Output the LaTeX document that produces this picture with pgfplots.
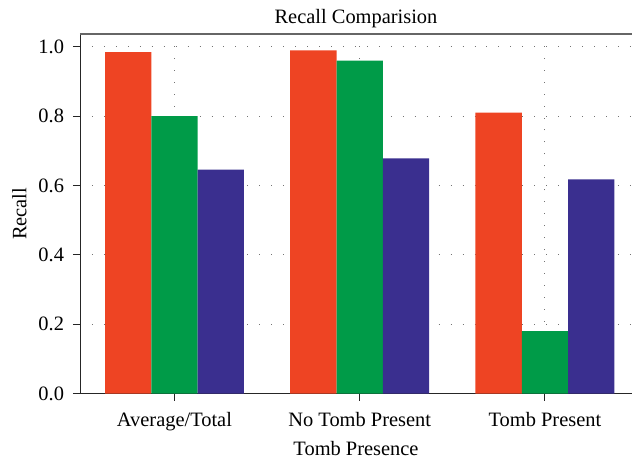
\documentclass[border=0pt]{standalone}
\usepackage{pgfplots}
\pgfplotsset{compat=1.18}
\usepackage{fontspec}
\setmainfont{Liberation Serif}
\definecolor{cred}{HTML}{EE4423}
\definecolor{cgreen}{HTML}{009B48}
\definecolor{cblue}{HTML}{3A2F8F}
\begin{document}
\fontsize{20.5}{24}\selectfont
\begin{tikzpicture}
\begin{axis}[
  scale only axis,
  width=552bp, height=359.5bp,
  xmin=-0.51, xmax=2.47,
  ymin=0, ymax=1.037,
  ybar=0pt, bar width=0.25,
  xtick={0,1,2},
  xticklabels={Average/Total,No Tomb Present,Tomb Present},
  ytick={0,0.2,0.4,0.6,0.8,1.0},
  yticklabel style={/pgf/number format/fixed,/pgf/number format/fixed zerofill,/pgf/number format/precision=1,xshift=-2bp},
  /pgf/number format/assume math mode=true,
  axis x line*=bottom, axis y line*=left,
  axis line style={black!85, line width=0.9pt},
  x axis line style={-}, y axis line style={-},
  tick style={black!85, line width=0.9pt},
  tick align=outside,
  major tick length=7bp,
  xmajorgrids, ymajorgrids,
  grid style={black!55, line width=1pt, dash pattern=on 1pt off 11pt},
  axis on top=false,
  title={Recall Comparision},
  title style={yshift=-7bp},
  xlabel={Tomb Presence},
  ylabel={Recall},
  xlabel style={yshift=4bp},
  ylabel style={yshift=-2bp},
  xticklabel style={yshift=-5bp},
  every tick label/.append style={font=\fontsize{20.5}{24}\selectfont},
  label style={font=\fontsize{20.5}{24}\selectfont},
]
\addplot[fill=cred, draw=none] coordinates {(0,0.985) (1,0.99) (2,0.81)};
\addplot[fill=cgreen, draw=none] coordinates {(0,0.80) (1,0.96) (2,0.18)};
\addplot[fill=cblue, draw=none] coordinates {(0,0.646) (1,0.678) (2,0.618)};
\draw[black!60, line width=1.1pt] (rel axis cs:0,1) -- (rel axis cs:1,1);
\end{axis}
\pgfresetboundingbox
\path ([xshift=-80bp,yshift=-65.7bp]current axis.south west) rectangle ([xshift=1bp,yshift=34bp]current axis.north east);
\end{tikzpicture}
\end{document}
